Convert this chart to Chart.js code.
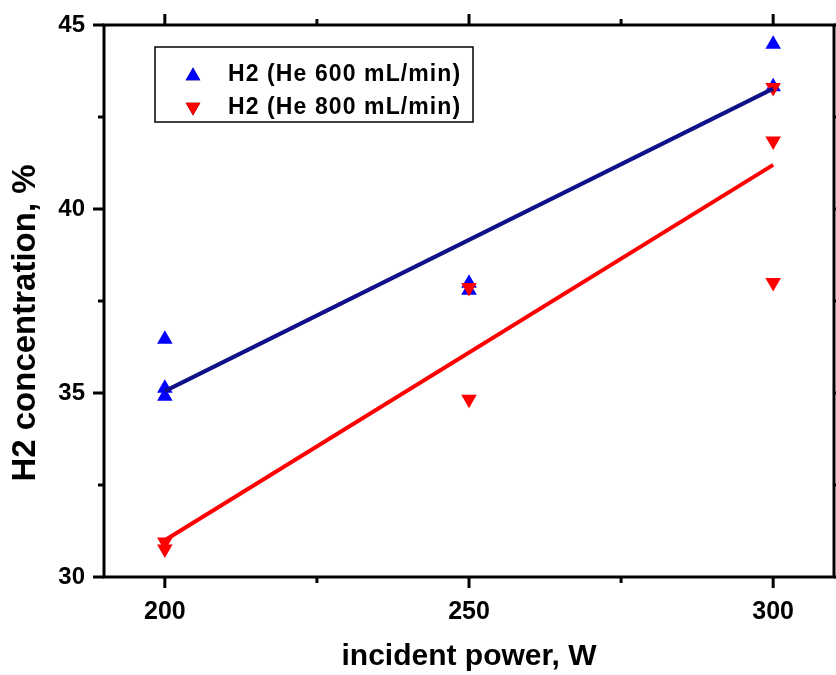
<!DOCTYPE html>
<html>
<head>
<meta charset="utf-8">
<script src="https://cdn.jsdelivr.net/npm/chart.js@4.4.1/dist/chart.umd.min.js"></script>
<style>
	body { margin: 0; background: #fff; }
	canvas { display: block; }
</style>
</head>
<body>
<canvas id="h2Chart" width="836" height="675"></canvas>
<script>
// Chart data

const xTicks = [200, 250, 300];
const xMinor = [225, 275];
const yTicks = [30, 35, 40, 45];
const yMinor = [32.5, 37.5, 42.5];

const power600 = [200, 200, 200, 250, 250, 300, 300];
const h2He600 = [36.46, 35.13, 34.91, 37.98, 37.79, 44.48, 43.32];

const power800 = [200, 200, 250, 250, 300, 300, 300];
const h2He800 = [30.95, 30.76, 37.87, 34.83, 43.3, 41.85, 38.0];

const fitPower = [200, 300];
const fit600 = [35.05, 43.27];
const fit800 = [31.0, 41.2];

const labels = ["H2 (He 600 mL/min)", "H2 (He 800 mL/min)"];

const FONT = "'Liberation Sans', Arial, sans-serif";

function toPoints(xs, ys){
	return xs.map((x, i) => ({ x: x, y: ys[i] }));
}

// no extra room for edge labels, the frame is placed by hand
function noPadding(){
	return { left: 0, top: 0, right: 0, bottom: 0 };
}


// Frame, ticks on all four sides, legend box and y title

const framePlugin = {
	id: "frame",
	afterDraw(chart){
		const ctx = chart.ctx;
		const a = chart.chartArea;
		const xs = chart.scales.x;
		const ys = chart.scales.y;

		ctx.save();
		ctx.strokeStyle = "#000";
		ctx.lineWidth = 3;
		ctx.strokeRect(a.left, a.top, a.right - a.left, a.bottom - a.top);

		ctx.beginPath();
		xTicks.concat(xMinor).forEach(v => {
			let len = xTicks.includes(v) ? 11 : 6;
			let px = xs.getPixelForValue(v);
			ctx.moveTo(px, a.bottom); ctx.lineTo(px, a.bottom + len);
			ctx.moveTo(px, a.top); ctx.lineTo(px, a.top - len);
		});
		yTicks.concat(yMinor).forEach(v => {
			let len = yTicks.includes(v) ? 11 : 6;
			let py = ys.getPixelForValue(v);
			ctx.moveTo(a.left, py); ctx.lineTo(a.left - len, py);
			ctx.moveTo(a.right, py); ctx.lineTo(a.right + len, py);
		});
		ctx.stroke();

		// legend
		let lx = 155, ly = 47, lw = 318, lh = 75;
		ctx.lineWidth = 1.5;
		ctx.strokeRect(lx, ly, lw, lh);
		const legendSets = [chart.data.datasets[3], chart.data.datasets[2]];
		legendSets.forEach((ds, i) => {
			let cy = 75 + i * 33;
			Chart.helpers.drawPoint(ctx, {
				pointStyle: "triangle",
				radius: 8.5,
				rotation: ds.rotation || 0,
				borderWidth: 0
			}, 193, cy + (ds.rotation ? -1 : 1));
			ctx.fillStyle = ds.backgroundColor;
			ctx.fill();
			ctx.fillStyle = "#000";
			ctx.font = "bold 23px " + FONT;
			ctx.textAlign = "left";
			ctx.textBaseline = "middle";
			ctx.letterSpacing = "1.1px";
			ctx.fillText(ds.label, 228, cy);
			ctx.letterSpacing = "0px";
		});

		// y axis title
		ctx.translate(26, 323);
		ctx.rotate(-Math.PI / 2);
		ctx.font = "bold 33px " + FONT;
		ctx.textAlign = "center";
		ctx.textBaseline = "middle";
		ctx.fillStyle = "#000";
		ctx.fillText("H2 concentration, %", 0, 0);
		ctx.restore();
	}
};


const chart = new Chart(document.getElementById("h2Chart").getContext("2d"), {
	type: "scatter",
	data: {
		datasets: [
			{
				type: "line",
				data: toPoints(fitPower, fit600),
				borderColor: "#101088",
				borderWidth: 4,
				pointRadius: 0,
				fill: false
			},
			{
				type: "line",
				data: toPoints(fitPower, fit800),
				borderColor: "#ff0000",
				borderWidth: 4,
				pointRadius: 0,
				fill: false
			},
			{
				label: labels[1],
				data: toPoints(power800, h2He800),
				pointStyle: "triangle",
				rotation: 180,
				pointRadius: 9,
				pointBorderWidth: 0,
				backgroundColor: "#ff0000",
				borderColor: "#ff0000"
			},
			{
				label: labels[0],
				data: toPoints(power600, h2He600),
				pointStyle: "triangle",
				pointRadius: 9,
				pointBorderWidth: 0,
				backgroundColor: "#0000ff",
				borderColor: "#0000ff"
			}
		]
	},
	options: {
		responsive: false,
		animation: false,
		layout: { autoPadding: false, padding: { top: 25, right: 2, left: 0, bottom: 0 } },
		plugins: {
			legend: { display: false },
			tooltip: { enabled: false }
		},
		scales: {
			x: {
				type: "linear",
				min: 190,
				max: 310,
				afterBuildTicks: s => { s.ticks = xTicks.map(v => ({ value: v })) },
				afterFit: s => { s.height = 98; s.getPadding = noPadding },
				grid: { display: false, drawTicks: false },
				border: { display: false },
				ticks: {
					color: "#000",
					padding: 20,
					font: { family: FONT, size: 25, weight: "bold" }
				},
				title: {
					display: true,
					text: "incident power, W",
					color: "#000",
					padding: 0,
					font: { family: FONT, size: 30, weight: "bold" }
				}
			},
			y: {
				type: "linear",
				min: 30,
				max: 45,
				afterBuildTicks: s => { s.ticks = yTicks.map(v => ({ value: v })) },
				afterFit: s => { s.width = 104; s.getPadding = noPadding },
				grid: { display: false, drawTicks: false },
				border: { display: false },
				ticks: {
					color: "#000",
					padding: 19,
					font: { family: FONT, size: 24, weight: "bold" }
				}
			}
		}
	},
	plugins: [framePlugin]
});
</script>
</body>
</html>
